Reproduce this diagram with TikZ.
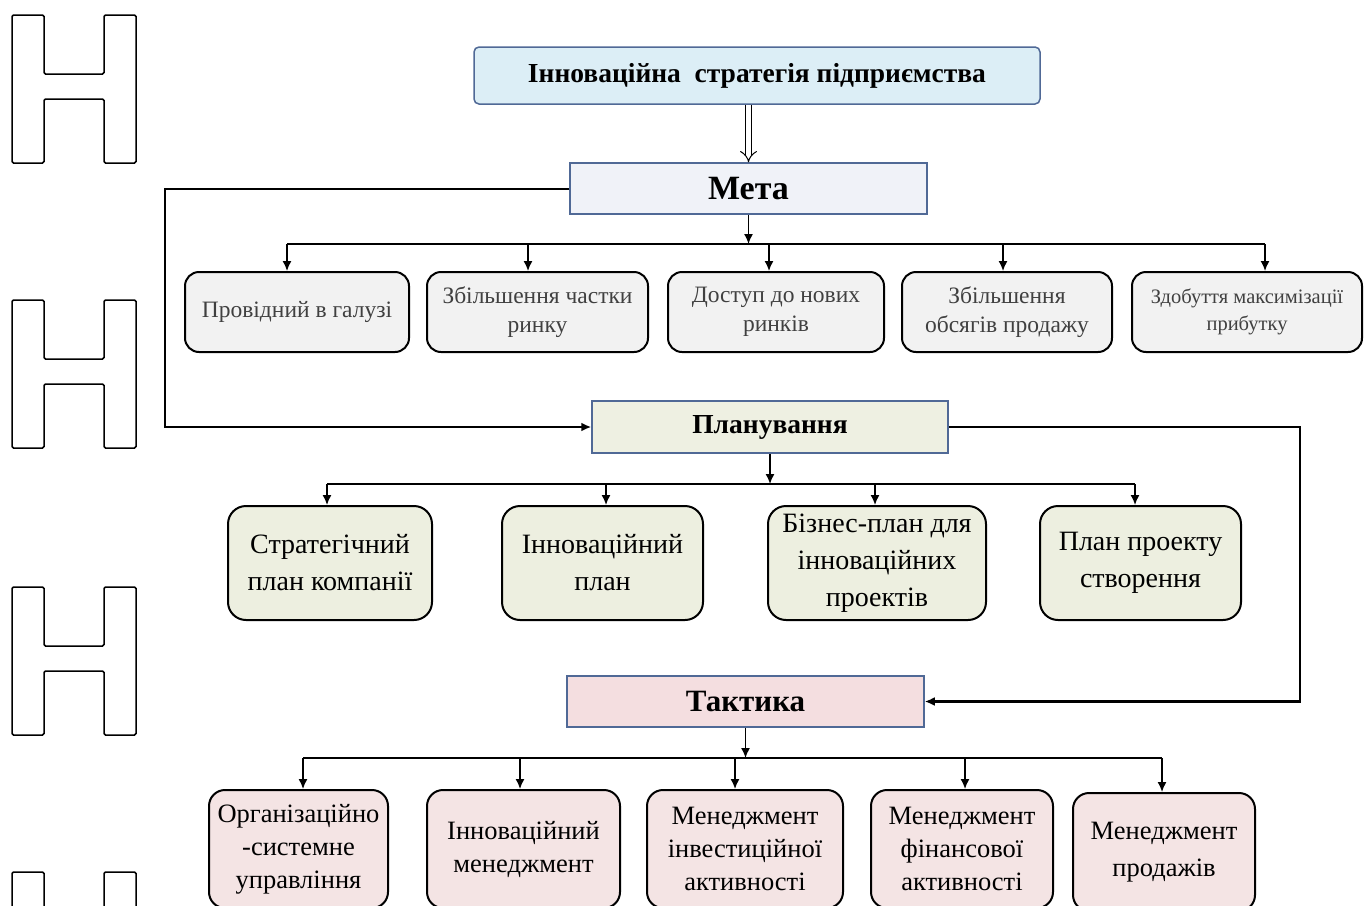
\documentclass[tikz,border=0pt]{standalone}
\usepackage{fontspec}
\setmainfont{Liberation Serif}
\usetikzlibrary{arrows.meta}
\definecolor{headline}{RGB}{80,105,150}
\definecolor{titlefill}{RGB}{220,238,246}
\definecolor{metafill}{RGB}{240,242,248}
\definecolor{planfill}{RGB}{238,240,226}
\definecolor{tactfill}{RGB}{244,222,224}
\definecolor{goalfill}{RGB}{242,242,242}
\definecolor{planbox}{RGB}{237,239,224}
\definecolor{tactbox}{RGB}{244,228,228}

\begin{document}
\begin{tikzpicture}[x=1pt,y=-1pt]
		\tikzstyle{head} = [draw=headline, line width=1.5, inner sep=0, font=\bfseries]
		\tikzstyle{goal} = [draw, line width=2, rounded corners=14, fill=goalfill, minimum height=80, align=center, text=black!75, font=\fontsize{23.5}{29}\selectfont]
		\tikzstyle{planbox} = [draw, line width=2, rounded corners=18, fill=planbox, minimum height=114, align=center, font=\fontsize{28}{37}\selectfont]
		\tikzstyle{tactbox} = [draw, line width=2, rounded corners=16, fill=tactbox, minimum height=118, align=center, font=\fontsize{26.5}{33}\selectfont]
		\tikzstyle{arr} = [-{Latex[length=10,width=9]}, line width=1.5]
		\tikzstyle{bus} = [line width=2.5]
		\path [use as bounding box, clip] (0,0) rectangle (1364,905);
		% letters on the left
		\foreach \t in {15,300,587,872}
			\draw [line width=1.5, rounded corners=1.5] (12,\t) -- (44,\t) -- (44,\t+59) -- (104,\t+59) -- (104,\t) -- (136,\t) -- (136,\t+148) -- (104,\t+148) -- (104,\t+84) -- (44,\t+84) -- (44,\t+148) -- (12,\t+148) -- cycle;
		% top
		\node [head, fill=titlefill, rounded corners=5, minimum width=566, minimum height=57, font=\bfseries\fontsize{27.5}{30}\selectfont] (v1) at (757,75.5) {Інноваційна\ \ стратегія підприємства};
		\node [head, fill=metafill, minimum width=357, minimum height=51, font=\bfseries\fontsize{34}{40}\selectfont] (v2) at (748.5,188.5) {Мета};
		\draw [double, double distance=5, line width=1, -{Implies}] (v1.south -| v2.north) -- (v2.north);
		% goals
		\node [goal, minimum width=224] (v3) at (297,312) {Провідний в галузі};
		\node [goal, minimum width=221] (v4) at (537.5,312) {Збільшення частки\\ринку};
		\node [goal, minimum width=216] (v5) at (776,312) {Доступ до нових\\ринків};
		\node [goal, minimum width=210] (v6) at (1007,312) {Збільшення\\обсягів продажу};
		\node [goal, minimum width=230, font=\fontsize{20.5}{27}\selectfont] (v7) at (1247,312) {Здобуття максимізації\\прибутку};
		\coordinate (b1) at (287,244);
		\coordinate (b2) at (1265,244);
		\draw [bus] (b1) -- (b2);
		\draw [arr] (v2.south) -- (v2.south |- b1);
		\foreach \n/\x in {3/287,4/528,5/769,6/1003,7/1265} {
			\coordinate (m\n) at (\x,244);
			\draw [arr] (m\n) -- (m\n |- v\n.north);
		}
		% planning
		\node [head, fill=planfill, minimum width=356, minimum height=52, font=\bfseries\fontsize{27.5}{30}\selectfont] (v8) at (770,427) {Планування};
		\coordinate (c1) at (165,0);
		\draw [arr, line width=2] (v2.west) -- (v2.west -| c1) |- (v8.west);
		\node [planbox, minimum width=204] (v9) at (330,563) {Стратегічний\\план компанії};
		\node [planbox, minimum width=201] (v10) at (602.5,563) {Інноваційний\\план};
		\node [planbox, minimum width=218] (v11) at (877,563) {Бізнес-план для\\інноваційних\\проектів};
		\node [planbox, minimum width=201] (v12) at (1140.5,563) {План проекту\\створення};
		\coordinate (b3) at (327,484);
		\coordinate (b4) at (1135,484);
		\draw [bus] (b3) -- (b4);
		\draw [arr] (v8.south) -- (v8.south |- b3);
		\foreach \n/\x in {9/327,10/606,11/875,12/1135} {
			\coordinate (m\n) at (\x,484);
			\draw [arr] (m\n) -- (m\n |- v\n.north);
		}
		% tactics
		\node [head, fill=tactfill, minimum width=357, minimum height=51, font=\bfseries\fontsize{31}{34}\selectfont] (v13) at (745.5,701.5) {Тактика};
		\coordinate (c2) at (1300,0);
		\draw [arr, line width=2.5] (v8.east) -- (v8.east -| c2) |- (v13.east);
		\node [tactbox, minimum width=179] (v14) at (298.5,849) {Організаційно\\-системне\\управління};
		\node [tactbox, minimum width=193] (v15) at (523.5,849) {Інноваційний\\менеджмент};
		\node [tactbox, minimum width=196] (v16) at (745,849) {Менеджмент\\інвестиційної\\активності};
		\node [tactbox, minimum width=182] (v17) at (962,849) {Менеджмент\\фінансової\\активності};
		\node [tactbox, minimum width=182, font=\fontsize{26.5}{37}\selectfont] (v18) at (1164,852) {Менеджмент\\продажів};
		\coordinate (b5) at (303,758);
		\coordinate (b6) at (1162,758);
		\draw [bus] (b5) -- (b6);
		\draw [arr] (v13.south) -- (v13.south |- b5);
		\foreach \n/\x in {14/303,15/520,16/735,17/965,18/1162} {
			\coordinate (m\n) at (\x,758);
			\draw [arr] (m\n) -- (m\n |- v\n.north);
		}
\end{tikzpicture}
\end{document}
